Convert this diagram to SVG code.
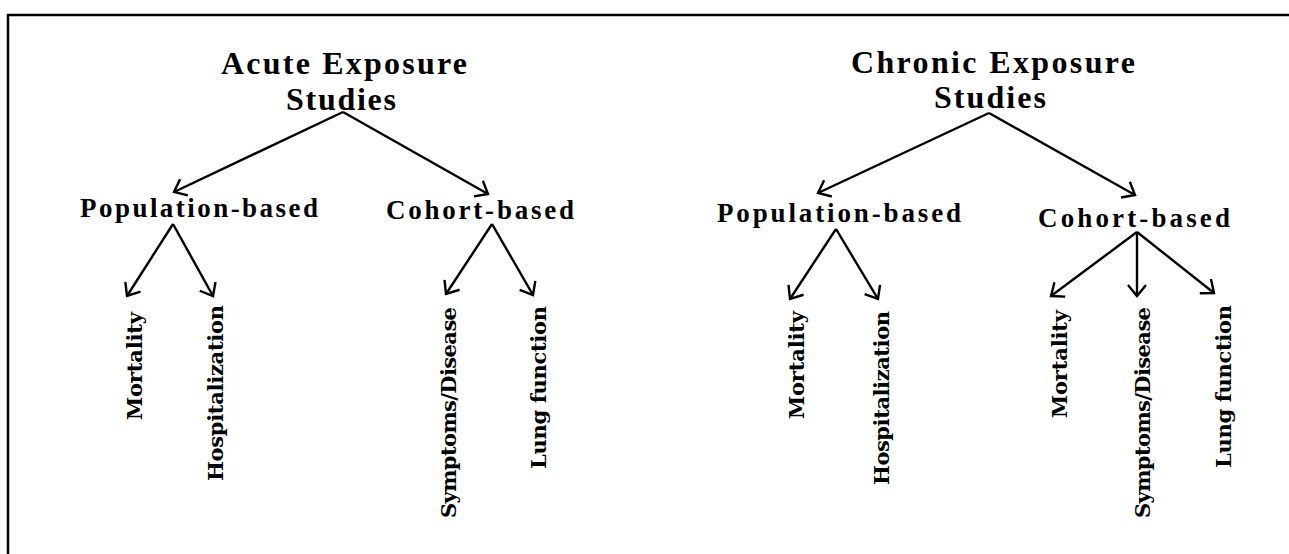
<svg xmlns="http://www.w3.org/2000/svg" width="1289" height="554" viewBox="0 0 1289 554">
<style>
.t{font-family:"Liberation Serif","Times New Roman",serif;font-weight:bold;fill:#000}
.title{font-size:32px}
.mid{font-size:27px}
.v{font-family:"DejaVu Serif","Liberation Serif",serif;font-weight:bold;font-size:21px;fill:#000}
.c line{stroke:#000;stroke-width:2.4;marker-end:url(#ah)}
</style>
<defs>
<marker id="ah" markerUnits="userSpaceOnUse" markerWidth="30" markerHeight="30" viewBox="-15 -15 30 30" refX="0" refY="0" orient="auto" overflow="visible">
<path d="M-11,-9 L0,0 L-11,9" fill="none" stroke="#000" stroke-width="2.4" stroke-linejoin="miter"/>
</marker>
</defs>
<rect width="1289" height="554" fill="#fff"/>
<g id="frame" stroke="#000" stroke-width="2.5" fill="none">
<path d="M8,554 L8,15 L1289,15"/>
</g>
<g id="acute-title"><text class="t title" x="221" y="74" textLength="246" lengthAdjust="spacing">Acute Exposure</text><text class="t title" x="286" y="110" textLength="110" lengthAdjust="spacing">Studies</text></g>
<g id="acute-pop"><text class="t mid" x="80" y="217" textLength="238" lengthAdjust="spacing">Population-based</text></g>
<g id="acute-cohort"><text class="t mid" x="386" y="219" textLength="188" lengthAdjust="spacing">Cohort-based</text></g>
<g id="acute-pop-mortality"><text class="v" transform="translate(142,420) rotate(-90)" textLength="108" lengthAdjust="spacing">Mortality</text></g>
<g id="acute-pop-hosp"><text class="v" transform="translate(223,481) rotate(-90)" textLength="176" lengthAdjust="spacing">Hospitalization</text></g>
<g id="acute-coh-symptoms"><text class="v" transform="translate(456,518) rotate(-90)" textLength="211" lengthAdjust="spacing">Symptoms/Disease</text></g>
<g id="acute-coh-lung"><text class="v" transform="translate(546,469) rotate(-90)" textLength="163" lengthAdjust="spacing">Lung function</text></g>
<g id="chronic-title"><text class="t title" x="851" y="73" textLength="284" lengthAdjust="spacing">Chronic Exposure</text><text class="t title" x="934" y="108" textLength="112" lengthAdjust="spacing">Studies</text></g>
<g id="chronic-pop"><text class="t mid" x="717" y="222" textLength="244" lengthAdjust="spacing">Population-based</text></g>
<g id="chronic-cohort"><text class="t mid" x="1038" y="227" textLength="192" lengthAdjust="spacing">Cohort-based</text></g>
<g id="chronic-pop-mortality"><text class="v" transform="translate(804,419) rotate(-90)" textLength="108" lengthAdjust="spacing">Mortality</text></g>
<g id="chronic-pop-hosp"><text class="v" transform="translate(889,485) rotate(-90)" textLength="174" lengthAdjust="spacing">Hospitalization</text></g>
<g id="chronic-coh-mortality"><text class="v" transform="translate(1067,418) rotate(-90)" textLength="108" lengthAdjust="spacing">Mortality</text></g>
<g id="chronic-coh-symptoms"><text class="v" transform="translate(1150,518) rotate(-90)" textLength="211" lengthAdjust="spacing">Symptoms/Disease</text></g>
<g id="chronic-coh-lung"><text class="v" transform="translate(1231,468) rotate(-90)" textLength="163" lengthAdjust="spacing">Lung function</text></g>
<g id="connectors" class="c">
<line x1="343" y1="112" x2="174" y2="192"/>
<line x1="343" y1="112" x2="488" y2="194"/>
<line x1="173" y1="224" x2="127" y2="296"/>
<line x1="173" y1="224" x2="213" y2="296"/>
<line x1="492" y1="224" x2="446" y2="294"/>
<line x1="492" y1="224" x2="533" y2="295"/>
<line x1="989" y1="113" x2="818" y2="193"/>
<line x1="989" y1="113" x2="1135" y2="195"/>
<line x1="836" y1="229" x2="790" y2="299"/>
<line x1="836" y1="229" x2="878" y2="299"/>
<line x1="1137" y1="232" x2="1051" y2="296"/>
<line x1="1137" y1="232" x2="1137" y2="296"/>
<line x1="1137" y1="232" x2="1214" y2="293"/>
</g>
</svg>
